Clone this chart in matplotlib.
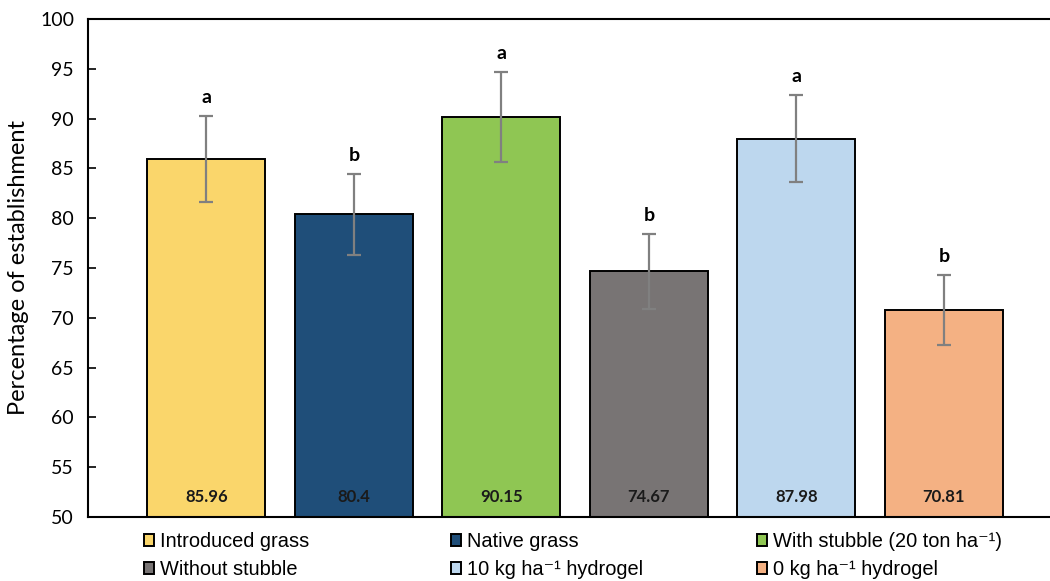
import numpy as np
import matplotlib
matplotlib.use('Agg')
import matplotlib.pyplot as plt

# --- Datos ---
tratamientos = ["Introduced grass", "Native grass", "With stubble (20 ton ha\u207b\u00b9)",
                "Without stubble", "10 kg ha\u207b\u00b9 hydrogel", "0 kg ha\u207b\u00b9 hydrogel"]
establecimiento = [85.96, 80.4, 90.15, 74.67, 87.98, 70.81]
error = [4.35, 4.05, 4.5, 3.75, 4.38, 3.5]
letras = ["a", "b", "a", "b", "a", "b"]
colores = ["#FAD66B", "#1F4E79", "#8FC653", "#787474", "#BDD7EE", "#F4B183"]

plt.rcParams['font.family'] = ['Lato', 'DejaVu Sans']

fig = plt.figure(figsize=(10.5, 5.81), dpi=100)
ax = fig.add_axes([0.0838, 0.1102, 0.9162, 0.8571])

x = np.arange(len(establecimiento))
barras = ax.bar(x, establecimiento, width=0.8, color=colores, edgecolor="black",
                linewidth=1.4, zorder=2)
ax.errorbar(x, establecimiento, yerr=error, fmt="none", ecolor="#808080",
            elinewidth=1.6, capsize=5, capthick=1.6, zorder=3)

for xi, v, e, l in zip(x, establecimiento, error, letras):
    ax.text(xi, v + e + 1.0, l, ha="center", va="bottom", fontsize=14, fontweight="bold")
    ax.text(xi, 52.0, f"{v:g}", ha="center", va="center", fontsize=12, fontweight="bold",
            color="#1a1a1a")

ax.set_ylim(50, 100)
ax.set_xlim(-0.803, 5.719)
ax.set_yticks(range(50, 101, 5))
ax.set_xticks([])
ax.tick_params(axis="y", direction="in", length=6, width=1.2, labelsize=14, pad=10)
ax.set_ylabel("Percentage of establishment", fontsize=17, labelpad=8)
ax.spines["right"].set_visible(False)
for s in ["left", "top", "bottom"]:
    ax.spines[s].set_linewidth(1.5)

# Leyenda: tres columnas de dos filas, cada una en su posición
columnas = [(0.137, [0, 3]), (0.4295, [1, 4]), (0.721, [2, 5])]
for xpos, idx in columnas:
    fig.legend([barras[i] for i in idx], [tratamientos[i] for i in idx],
               loc="upper left", bbox_to_anchor=(xpos, 0.084), frameon=False,
               prop={"family": ["Liberation Sans", "DejaVu Sans"], "size": 14.4},
               handlelength=0.5, handleheight=0.5, handletextpad=0.3,
               labelspacing=0.45, borderpad=0, borderaxespad=0)

fig.savefig("out.png", dpi=100)
